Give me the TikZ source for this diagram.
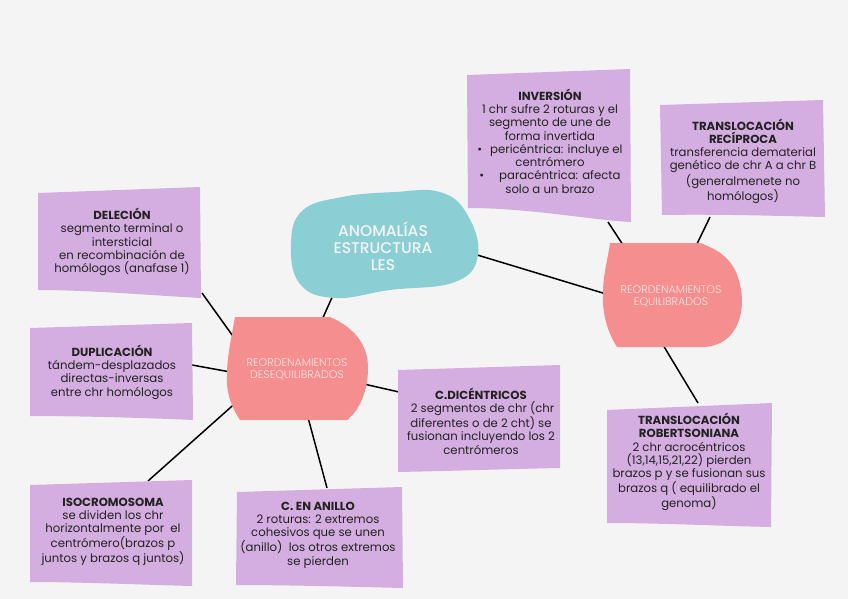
\documentclass[tikz,border=0pt]{standalone}
\usepackage{fontspec}
\setmainfont{Poppins}
\IfFontExistsTF{Poppins Medium}{\newfontfamily\popmed{Poppins Medium}}{\newfontfamily\popmed{Poppins}}
\IfFontExistsTF{Poppins Light}{\newfontfamily\poplight{Poppins Light}}{\newfontfamily\poplight{Poppins}}
\definecolor{bg}{HTML}{F4F4F4}
\definecolor{lav}{HTML}{D4AEE0}
\definecolor{pinkb}{HTML}{F58E8E}
\definecolor{tealb}{HTML}{8BCFD5}
\definecolor{ink}{HTML}{222222}
\definecolor{pinktxt}{HTML}{FDE2E2}
\begin{document}
\begin{tikzpicture}[x=1pt,y=-1pt,
  boxfill/.style={fill=lav},
  body/.style={font=\fontsize{11.7}{13.3}\selectfont, align=center, text=ink, inner sep=0},
  blobtxt/.style={font=\poplight\fontsize{11}{12}\selectfont, align=center, text=pinktxt, inner sep=0},
  conn/.style={line width=1.5pt, black}]
\useasboundingbox (0,0) rectangle (848,599);
\fill[bg] (0,0) rectangle (848,599);
% connector end points
\coordinate (tealE) at (474,254);
\coordinate (eqW) at (615,296.7);
\coordinate (tealS) at (334,293);
\coordinate (desN) at (321,322);
\coordinate (invS) at (608,222);
\coordinate (eqNW) at (625,248);
\coordinate (recS) at (710,217);
\coordinate (eqNE) at (695,248);
\coordinate (eqS) at (660,340);
\coordinate (robN) at (698,403);
\coordinate (delSE) at (202,293);
\coordinate (desNW) at (240,346);
\coordinate (dupE) at (192,365);
\coordinate (desW) at (236,373);
\coordinate (isoN) at (148,481);
\coordinate (desSW) at (240,399);
\coordinate (desS) at (306,410);
\coordinate (anN) at (327,488);
\coordinate (desE) at (355,382);
\coordinate (dicW) at (399,392);
% connectors
\draw[conn] (tealE) -- (eqW);
\draw[conn] (tealS) -- (desN);
\draw[conn] (invS) -- (eqNW);
\draw[conn] (recS) -- (eqNE);
\draw[conn] (eqS) -- (robN);
\draw[conn] (delSE) -- (desNW);
\draw[conn] (dupE) -- (desW);
\draw[conn] (isoN) -- (desSW);
\draw[conn] (desS) -- (anN);
\draw[conn] (desE) -- (dicW);
% boxes
\fill[boxfill] (467,75) -- (630,69) -- (631,222) .. controls (590,220) and (530,208) .. (468,208) -- cycle;
\fill[boxfill] (660,105) -- (823,100) -- (825,217) .. controls (780,216) and (720,214) .. (662,215) -- cycle;
\fill[boxfill] (38,193) -- (200,187) -- (201,298) .. controls (160,296) and (90,290) .. (38,290) -- cycle;
\fill[boxfill] (30,328) -- (192,323) -- (193,420) .. controls (150,418) and (80,416) .. (30,416) -- cycle;
\fill[boxfill] (30,485) -- (192,480) -- (192,586) .. controls (150,585) and (80,582) .. (30,582) -- cycle;
\fill[boxfill] (237,492) -- (402,487) -- (403,588) .. controls (360,587) and (290,585) .. (236,585) -- cycle;
\fill[boxfill] (398,370) -- (560,365) -- (560,468) .. controls (510,469) and (450,471) .. (398,472) -- cycle;
\fill[boxfill] (607,410) -- (772,403) -- (771,527) .. controls (720,526) and (660,523) .. (607,523) -- cycle;
% blobs
\fill[tealb] plot[smooth cycle, tension=0.7] coordinates {(291,245) (302,211) (342,197) (395,192) (440,192) (467,214) (478,255) (455,282) (390,290) (335,298) (300,284)};
\fill[pinkb] (610,243) -- (700,243) .. controls (725,252) and (740,265) .. (742,300) .. controls (742,325) and (730,345) .. (705,347) -- (617,347) .. controls (606,330) and (602,310) .. (603,293) .. controls (603,275) and (608,258) .. (610,243) -- cycle;
\fill[pinkb] (235,317) -- (330,317) .. controls (355,328) and (368,345) .. (368,368) .. controls (368,390) and (360,410) .. (347,420) -- (240,420) .. controls (230,405) and (226,390) .. (227,375) .. controls (227,355) and (232,335) .. (235,317) -- cycle;
% blob texts
\node[font=\popmed\fontsize{15.5}{17}\selectfont, align=center, text=bg, inner sep=0] (anom) at (383,246) {ANOMALÍAS\\ESTRUCTURA\\LES};
\node[blobtxt] (equi) at (671,296) {REORDENAMIENTOS\\EQUILIBRADOS};
\node[blobtxt] (deseq) at (297,369) {REORDENAMIENTOS\\DESEQUILIBRADOS};
% box texts
\node[body] (inv) at (550,141) {\textbf{INVERSIÓN}\\1 chr sufre 2 roturas y el\\segmento de une de\\forma invertida\\\textbullet\hspace{8pt}pericéntrica: incluye el\\centrómero\\\textbullet\hspace{15pt}paracéntrica: afecta\\solo a un brazo};
\node[body] (rec) at (743,161) {\textbf{TRANSLOCACIÓN}\\\textbf{RECÍPROCA}\\transferencia dematerial\\genético de chr A a chr B\\(generalmenete no\\homólogos)};
\node[body] (del) at (122,242) {\textbf{DELECIÓN}\\segmento terminal o\\intersticial\\en recombinación de\\homólogos (anafase 1)};
\node[body] (dup) at (112,372) {\textbf{DUPLICACIÓN}\\tándem-desplazados\\directas-inversas\\entre chr homólogos};
\node[body] (iso) at (113,532) {\textbf{ISOCROMOSOMA}\\se dividen los chr\\horizontalmente por\ \ el\\centrómero(brazos p\\juntos y brazos q juntos)};
\node[body] (anillo) at (318,535) {\textbf{C. EN ANILLO}\\2 roturas: 2 extremos\\cohesivos que se unen\\(anillo)\ \ los otros extremos\\se pierden};
\node[body] (dic) at (481,421) {\textbf{C.DICÉNTRICOS}\\\ 2 segmentos de chr (chr\\diferentes o de 2 cht) se\\fusionan incluyendo los 2\\centrómeros};
\node[body] (rob) at (689,462) {\textbf{TRANSLOCACIÓN}\\\textbf{ROBERTSONIANA}\\2 chr acrocéntricos\\(13,14,15,21,22) pierden\\brazos p y se fusionan sus\\brazos q ( equilibrado el\\genoma)};
\end{tikzpicture}
\end{document}
